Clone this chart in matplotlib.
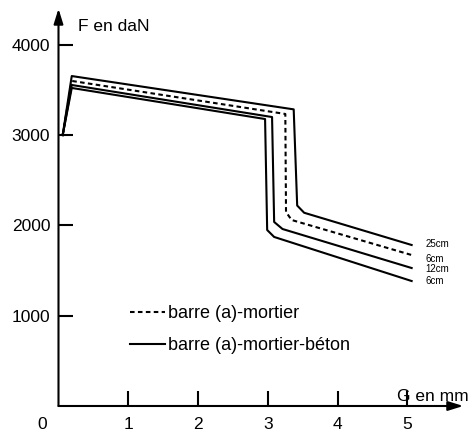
import matplotlib
matplotlib.use("Agg")
import matplotlib.pyplot as plt

plt.rcParams['font.family'] = ['Liberation Sans', 'DejaVu Sans']

# glissement G (mm) / effort F (daN)
g_25cm = [0.06, 0.19, 3.37, 3.42, 3.52, 5.06]
f_25cm = [3000, 3654, 3285, 2220, 2140, 1783]

g_6cm_mortier = [0.06, 0.19, 3.25, 3.26, 3.34, 5.06]
f_6cm_mortier = [3000, 3600, 3234, 2148, 2060, 1672]

g_12cm = [0.06, 0.19, 3.06, 3.09, 3.21, 5.06]
f_12cm = [3000, 3555, 3200, 2038, 1960, 1528]

g_6cm = [0.06, 0.19, 2.96, 2.99, 3.09, 5.06]
f_6cm = [3000, 3522, 3178, 1949, 1872, 1384]

x_ticks = [1, 2, 3, 4, 5]
y_ticks = [1000, 2000, 3000, 4000]
end_labels = ['25cm', '6cm', '12cm', '6cm']

fig = plt.figure(figsize=(4.74, 4.32), dpi=100)
ax = fig.add_axes([0.1234, 0.0602, 0.854, 0.9197])
ax.set_xlim(0, 5.8)
ax.set_ylim(0, 4400)

lw = 1.5
l25, = ax.plot(g_25cm, f_25cm, color='black', lw=lw)
ldash, = ax.plot(g_6cm_mortier, f_6cm_mortier, color='black', lw=lw, dashes=(2.2, 1.6))
l12, = ax.plot(g_12cm, f_12cm, color='black', lw=lw)
l6, = ax.plot(g_6cm, f_6cm, color='black', lw=lw)

# etiquettes en bout de courbe
offsets = [1, -3, -1, 0]
ends = [f_25cm[-1], f_6cm_mortier[-1], f_12cm[-1], f_6cm[-1]]
for lab, yv, dy in zip(end_labels, ends, offsets):
    ax.annotate(lab, xy=(g_25cm[-1], yv), xytext=(10, dy), textcoords='offset points',
                fontsize=7, va='center', ha='left')

# axes avec fleches
for s in ax.spines.values():
    s.set_visible(False)
arrow = dict(arrowstyle='-|>,head_length=0.9,head_width=0.28', color='black', lw=1.5,
             shrinkA=0, shrinkB=0)
ax.annotate('', xy=(0, 1.0), xytext=(0, 0), xycoords='axes fraction', arrowprops=arrow)
ax.annotate('', xy=(1.0, 0), xytext=(0, 0), xycoords='axes fraction', arrowprops=arrow)

ax.set_xticks(x_ticks)
ax.set_yticks(y_ticks)
ax.tick_params(direction='in', length=11, width=1.5, labelsize=12.5, color='black')
ax.tick_params(axis='y', pad=6)
ax.tick_params(axis='x', pad=8)
ax.text(-0.24, -200, '0', fontsize=12.5, ha='center', va='center')

ax.text(0.28, 4208, 'F en daN', fontsize=12.5, ha='left', va='center')
ax.text(4.85, 110, 'G en mm', fontsize=12.5, ha='left', va='center')

ax.legend([ldash, l6], ['barre (a)-mortier', 'barre (a)-mortier-béton'],
          loc='upper left', bbox_to_anchor=(0.16, 0.272), frameon=False,
          fontsize=13, handlelength=1.9, handletextpad=0.2, labelspacing=0.85,
          borderaxespad=0)

fig.savefig('out.png', dpi=100, facecolor='white')
